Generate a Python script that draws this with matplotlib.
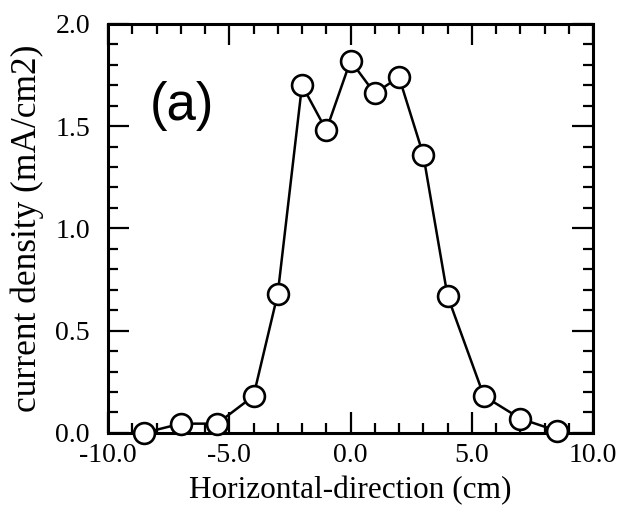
import matplotlib
matplotlib.use("Agg")
import matplotlib.pyplot as plt
from matplotlib.ticker import MultipleLocator, FormatStrFormatter


# Profil horizontal de densité de courant
position_cm = [-8.5, -7.0, -5.5, -4.0, -3.0, -2.0, -1.0, 0.0, 1.0, 2.0, 3.0, 4.0, 5.5, 7.0, 8.5]
density_ma_cm2 = [0.0, 0.045, 0.045, 0.18, 0.68, 1.70, 1.48, 1.82, 1.66, 1.74, 1.36, 0.67, 0.18, 0.07, 0.01]

x_major_ticks = [-10.0, -5.0, 0.0, 5.0, 10.0]
y_major_ticks = [0.0, 0.5, 1.0, 1.5, 2.0]

plt.rcParams["axes.unicode_minus"] = False
plt.rcParams["font.family"] = ["Liberation Serif", "DejaVu Serif"]

fig = plt.figure(figsize=(6.19, 5.19), dpi=100)
ax = fig.add_axes([0.1745, 0.166, 0.7835, 0.788])

ax.plot(
    position_cm,
    density_ma_cm2,
    color="black",
    linewidth=1.8,
    marker="o",
    markersize=15,
    markerfacecolor="white",
    markeredgecolor="black",
    markeredgewidth=1.9,
    clip_on=False,
    zorder=3,
)

ax.set_xlim(-10.0, 10.0)
ax.set_ylim(0.0, 2.0)
ax.set_xticks(x_major_ticks)
ax.set_yticks(y_major_ticks)
ax.xaxis.set_minor_locator(MultipleLocator(1.0))
ax.yaxis.set_minor_locator(MultipleLocator(0.1))
ax.xaxis.set_major_formatter(FormatStrFormatter("%.1f"))
ax.yaxis.set_major_formatter(FormatStrFormatter("%.1f"))

ax.tick_params(which="both", direction="in", top=True, right=True, width=1.6, colors="black")
ax.tick_params(which="major", length=15)
ax.tick_params(which="minor", length=7)
ax.tick_params(axis="x", which="major", labelsize=20, pad=7)
ax.tick_params(axis="y", which="major", labelsize=20, pad=13)

for spine in ax.spines.values():
    spine.set_linewidth(2.2)

ax.set_xlabel("Horizontal-direction (cm)", fontsize=22.5, labelpad=6)
ax.set_ylabel("current density (mA/cm2)", fontsize=25.5, labelpad=8)

ax.text(0.087, 0.80, "(a)", transform=ax.transAxes, fontsize=38,
        family=["Liberation Sans", "DejaVu Sans"], ha="left", va="center")

fig.savefig("out.png", dpi=100)
